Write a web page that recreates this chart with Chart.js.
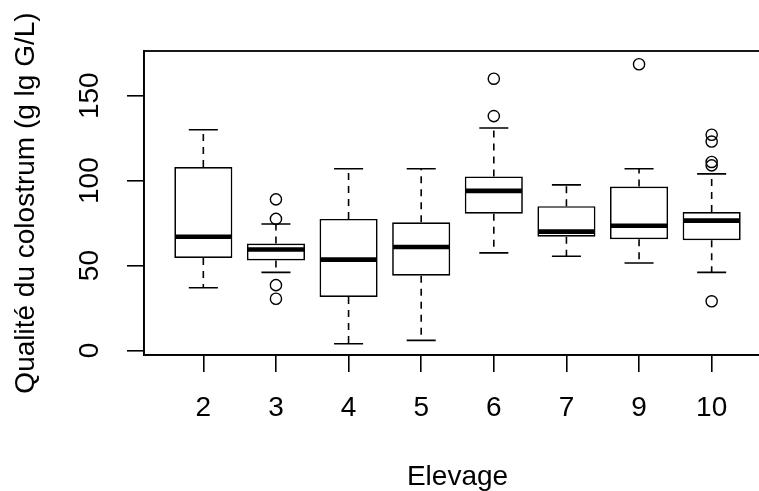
<!DOCTYPE html>
<html><head><meta charset="utf-8">
<script src="https://cdn.jsdelivr.net/npm/chart.js@4"></script>
<style>html,body{margin:0;padding:0;background:#fff;overflow:hidden;width:759px;height:491px}canvas{display:block}</style>
</head><body>
<canvas id="c" width="800" height="491"></canvas>
<script>
// ---- data ----
const categories  = ['2', '3', '4', '5', '6', '7', '9', '10'];
const whiskerLow  = [37,   46,   4,    6,    57.5, 55.5, 51.5, 46];
const q1          = [54.5, 53,   31.5, 44,   80.5, 67,   65.5, 65];
const median      = [67,   59.5, 53.5, 61,   94,   70,   73.5, 76.5];
const q3          = [108,  63,   77.5, 75.5, 102.5,85,   96.5, 81.5];
const whiskerHigh = [130,  74.5, 107,  107,  131,  97.5, 107,  104];
const outliers    = [[], [89, 77.5, 38.5, 30.5], [], [], [160, 138], [], [168.5], [127, 123, 111, 109, 29]];
const yTicks = [0, 50, 100, 150];
const xTitle = 'Elevage';
const yTitle = 'Qualité du colostrum (g lg G/L)';

const FONT = "'Liberation Sans', Arial, sans-serif";
const FS = 28;

const boxData = categories.map((c, i) => ({x: i + 1, y: [q1[i], q3[i]]}));
const outlierData = [];
outliers.forEach((arr, i) => arr.forEach(v => outlierData.push({x: i + 1, y: v})));

const boxPlugin = {
  id: 'boxparts',
  afterDatasetsDraw(chart) {
    const {ctx, scales: {x, y}} = chart;
    ctx.save();
    ctx.strokeStyle = '#000';
    categories.forEach((c, i) => {
      const px = x.getPixelForValue(i + 1);
      const half = x.getPixelForValue(i + 1.4) - px;
      const cap = x.getPixelForValue(i + 1.2) - px;
      ctx.lineWidth = 1.6;
      ctx.setLineDash([7, 6]);
      ctx.beginPath();
      ctx.moveTo(px, y.getPixelForValue(q3[i])); ctx.lineTo(px, y.getPixelForValue(whiskerHigh[i]));
      ctx.moveTo(px, y.getPixelForValue(q1[i])); ctx.lineTo(px, y.getPixelForValue(whiskerLow[i]));
      ctx.stroke();
      ctx.setLineDash([]);
      ctx.beginPath();
      const yh = y.getPixelForValue(whiskerHigh[i]), yl = y.getPixelForValue(whiskerLow[i]);
      ctx.moveTo(px - cap, yh); ctx.lineTo(px + cap, yh);
      ctx.moveTo(px - cap, yl); ctx.lineTo(px + cap, yl);
      ctx.stroke();
      ctx.lineWidth = 4.6;
      ctx.lineCap = 'butt';
      ctx.beginPath();
      const ym = y.getPixelForValue(median[i]);
      ctx.moveTo(px - half + 1, ym); ctx.lineTo(px + half - 1, ym);
      ctx.stroke();
    });
    ctx.restore();
  },
  afterDraw(chart) {
    const {ctx, chartArea: a} = chart;
    ctx.save();
    ctx.strokeStyle = '#000';
    ctx.lineWidth = 1.8;
    ctx.strokeRect(a.left, a.top, a.right - a.left, a.bottom - a.top);
    ctx.restore();
  }
};

new Chart(document.getElementById('c'), {
  type: 'bar',
  data: {
    datasets: [
      {
        type: 'bar',
        data: boxData,
        backgroundColor: '#fff',
        borderColor: '#000',
        borderWidth: 1.7,
        borderSkipped: false,
        categoryPercentage: 1,
        barPercentage: 0.8
      },
      {
        type: 'scatter',
        data: outlierData,
        pointStyle: 'circle',
        pointRadius: 5.6,
        pointBorderWidth: 1.4,
        pointBorderColor: '#000',
        pointBackgroundColor: 'rgba(0,0,0,0)',
        showLine: false
      }
    ]
  },
  options: {
    responsive: false,
    animation: false,
    devicePixelRatio: 1,
    layout: {padding: {top: 51, right: 29, bottom: 0, left: 0}},
    plugins: {legend: {display: false}, tooltip: {enabled: false}},
    scales: {
      x: {
        type: 'linear',
        offset: false,
        min: 0.183, max: 8.817,
        afterBuildTicks: s => { s.ticks = categories.map((c, i) => ({value: i + 1})); },
        afterFit: s => { s.height = 136; },
        grid: {display: true, drawOnChartArea: false, drawTicks: true, tickLength: 17, color: '#000', lineWidth: 1.6, offset: false},
        border: {display: true, color: '#000', width: 1.6},
        ticks: {
          callback: v => categories[v - 1] !== undefined ? categories[v - 1] : '',
          color: '#000', font: {family: FONT, size: FS}, padding: 19.5, maxRotation: 0, minRotation: 0, autoSkip: false
        },
        title: {display: true, text: xTitle, color: '#000', font: {family: FONT, size: FS}, padding: {top: 0, bottom: -3}}
      },
      y: {
        type: 'linear',
        min: -2.6, max: 176.3,
        afterBuildTicks: s => { s.ticks = yTicks.map(v => ({value: v})); },
        afterFit: s => { s.width = 144; },
        grid: {display: true, drawOnChartArea: false, drawTicks: true, tickLength: 17, color: '#000', lineWidth: 1.6},
        border: {display: true, color: '#000', width: 1.6},
        ticks: {
          callback: v => String(v),
          color: '#000', font: {family: FONT, size: FS}, padding: 13,
          minRotation: 90, maxRotation: 90, crossAlign: 'center', autoSkip: false
        },
        title: {display: true, text: yTitle, color: '#000', font: {family: FONT, size: FS}, padding: {top: 9, bottom: 0}}
      }
    }
  },
  plugins: [boxPlugin]
});
</script>
</body></html>
